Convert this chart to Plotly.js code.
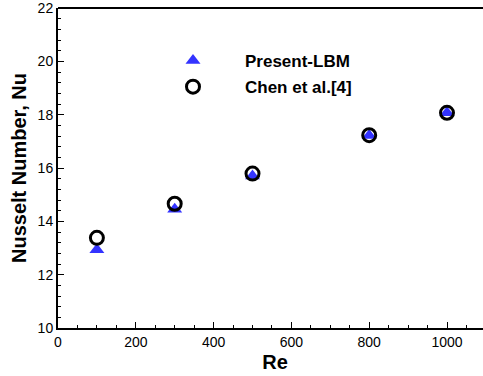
<!DOCTYPE html>
<html>
<head>
<meta charset="utf-8">
<script src="https://cdn.plot.ly/plotly-3.0.1.min.js"></script>
<style>html,body{margin:0;padding:0;background:#fff;overflow:hidden;}#chart{width:492px;height:376px;}</style>
</head>
<body>
<div id="chart"></div>
<script>
const reynolds = [100, 300, 500, 800, 1000];
const nuPresentLBM = [12.93, 14.45, 15.7, 17.22, 18.07];
const nuChen = [13.38, 14.66, 15.79, 17.23, 18.07];
const seriesNames = ['Present-LBM', 'Chen et al.[4]'];

const traces = [
  {
    x: reynolds, y: nuPresentLBM, name: seriesNames[0], type: 'scatter', mode: 'markers',
    legendgroup: 'a',
    marker: {symbol: 'triangle-up', size: 13, color: 'rgb(51,51,255)', line: {width: 0}}
  },
  {
    x: reynolds, y: nuChen, name: seriesNames[1], type: 'scatter', mode: 'markers',
    legendgroup: 'b',
    marker: {symbol: 'circle-open', size: 13, color: '#000', line: {width: 3, color: '#000'}}
  }
];

const font = {family: '"Liberation Sans", Arial, sans-serif', color: '#000'};
const plotW = 492 - 58;

const layout = {
  width: 492, height: 376,
  margin: {l: 58, r: 0, t: 8, b: 48, pad: 0},
  paper_bgcolor: '#fff', plot_bgcolor: '#fff',
  font: Object.assign({size: 12}, font),
  showlegend: true,
  legend: {
    x: (141 - 58) / plotW, y: 1 - (43 - 8) / 320, xanchor: 'left', yanchor: 'top',
    bgcolor: 'rgba(0,0,0,0)', borderwidth: 0,
    font: Object.assign({size: 17, weight: 'bold'}, font),
    itemwidth: 94, traceorder: 'grouped', tracegroupgap: 1
  },
  shapes: [
    {type: 'line', xref: 'paper', yref: 'paper', x0: 0, x1: 1, y0: 1, y1: 1, line: {color: '#000', width: 2}}
  ],
  xaxis: {
    range: [0, plotW / 0.389], showgrid: false, zeroline: false,
    showline: true, linecolor: '#000', linewidth: 2, mirror: false,
    ticks: 'inside', ticklen: 6, tickwidth: 1, tickcolor: '#000',
    tick0: 0, dtick: 200,
    tickfont: Object.assign({size: 14}, font),
    minor: {dtick: 50, ticks: 'inside', ticklen: 3, tickwidth: 1, tickcolor: '#000', showgrid: false},
    title: {text: 'Re', font: Object.assign({size: 20, weight: 'bold'}, font), standoff: 6}
  },
  yaxis: {
    range: [10, 22], showgrid: false, zeroline: false,
    showline: true, linecolor: '#000', linewidth: 2, mirror: false,
    ticks: 'inside', ticklen: 6, tickwidth: 1, tickcolor: '#000',
    tick0: 10, dtick: 2, ticklabeloverflow: 'allow',
    tickfont: Object.assign({size: 14}, font),
    minor: {dtick: 0.4, ticks: 'inside', ticklen: 3, tickwidth: 1, tickcolor: '#000', showgrid: false},
    title: {text: 'Nusselt Number, Nu', font: Object.assign({size: 20, weight: 'bold'}, font), standoff: 6}
  }
};

Plotly.newPlot('chart', traces, layout, {displayModeBar: false, staticPlot: true});
</script>
</body>
</html>
